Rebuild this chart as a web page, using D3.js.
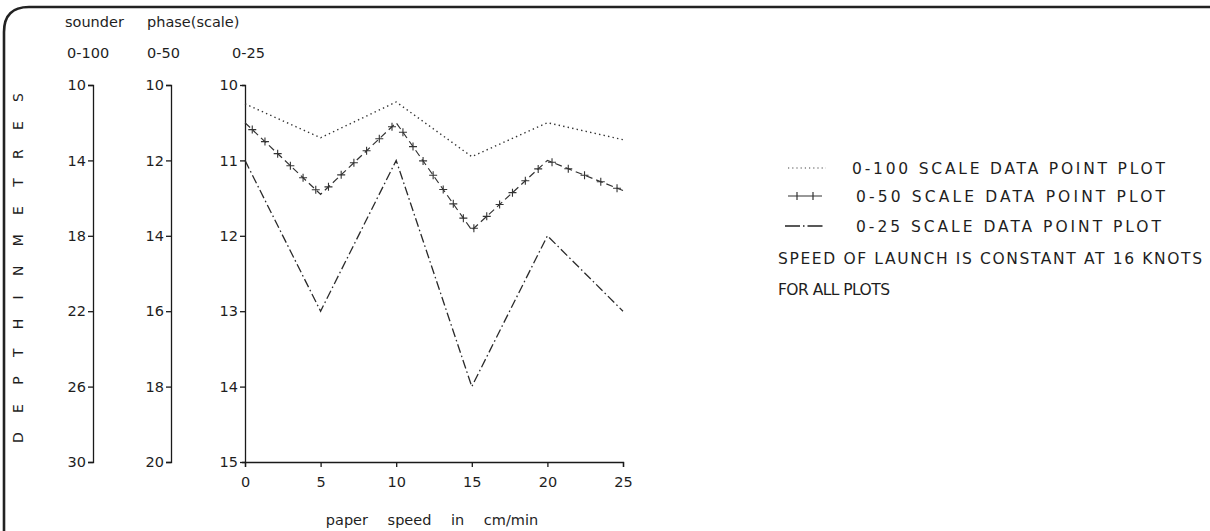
<!DOCTYPE html>
<html><head><meta charset="utf-8">
<script src="https://cdn.jsdelivr.net/npm/d3@7"></script>
<style>
html,body{margin:0;padding:0;background:#fff;}
svg{display:block;}
text{font-family:"DejaVu Sans",sans-serif;fill:#1e1e1e;}
</style></head>
<body>
<svg id="c" width="1210" height="531"></svg>
<script>
// ---- data ----
const speeds = [0, 5, 10, 15, 20, 25];               // paper speed, cm/min
const depth0to100 = [11, 12.8, 10.9, 13.8, 12, 12.9]; // metres, 0-100 scale
const depth0to50  = [11, 12.9, 11, 13.85, 12, 12.8];  // metres, 0-50 scale
const depth0to25  = [11, 13, 11, 14, 12, 13];         // metres, 0-25 scale
const ticks100 = [10, 14, 18, 22, 26, 30];
const ticks50  = [10, 12, 14, 16, 18, 20];
const ticks25  = [10, 11, 12, 13, 14, 15];
const xTicks   = [0, 5, 10, 15, 20, 25];
const headerTop = ["sounder", "phase(scale)"];
const scaleNames = ["0-100", "0-50", "0-25"];
const legendLabels = ["0-100 SCALE DATA POINT PLOT", "0-50 SCALE DATA POINT PLOT", "0-25 SCALE DATA POINT PLOT"];
const notes = ["SPEED OF LAUNCH IS CONSTANT AT 16 KNOTS", "FOR ALL PLOTS"];
const xTitle = "paper speed in cm/min";
const yTitle = "D E P T H   I N   M E T R E S";

const svg = d3.select("#c");
const ink = "#1a1a1a";
const FS = "14.5px";
const LFS = "15.5px";

// frame
svg.append("path").attr("d","M4,531 L4,32 Q4,7 29,7 L1210,7")
  .attr("fill","none").attr("stroke","#222").attr("stroke-width",2.6);

// scales
const yTopPx = 85, yBotPx = 462;
const x = d3.scaleLinear().domain([0,25]).range([245,623]);
const y100 = d3.scaleLinear().domain([10,30]).range([yTopPx,yBotPx]);
const y50  = d3.scaleLinear().domain([10,20]).range([yTopPx,yBotPx]);
const y25  = d3.scaleLinear().domain([10,15]).range([yTopPx,yBotPx]);
const fmt = d3.format("d");

function styleAxis(g){
  g.selectAll("path,line").attr("stroke",ink).attr("stroke-width",1.3);
  g.selectAll("text").style("font-family","DejaVu Sans, sans-serif").style("font-size",FS).attr("fill","#1e1e1e");
}
const ax100 = svg.append("g").attr("transform","translate(93,0)")
  .call(d3.axisLeft(y100).tickValues(ticks100).tickFormat(fmt).tickSize(5).tickPadding(2));
styleAxis(ax100);
const ax50 = svg.append("g").attr("transform","translate(171,0)")
  .call(d3.axisLeft(y50).tickValues(ticks50).tickFormat(fmt).tickSize(5).tickPadding(2));
styleAxis(ax50);
const ax25 = svg.append("g").attr("transform","translate(245,0)")
  .call(d3.axisLeft(y25).tickValues(ticks25).tickFormat(fmt).tickSize(5).tickSizeOuter(3).tickPadding(2));
styleAxis(ax25);
const axX = svg.append("g").attr("transform",`translate(0,${yBotPx})`)
  .call(d3.axisBottom(x).tickValues(xTicks).tickFormat(fmt).tickSize(5).tickPadding(10));
styleAxis(axX);

// headers
svg.append("text").attr("x",65).attr("y",27).style("font-size",FS).text(headerTop[0]);
svg.append("text").attr("x",147).attr("y",27).style("font-size",FS).text(headerTop[1]);
[67,147,232].forEach((px,i)=>{
  svg.append("text").attr("x",px).attr("y",58).style("font-size",FS).text(scaleNames[i]);
});

// y title (vertical)
svg.append("text").attr("transform","translate(23,268) rotate(-90)")
  .attr("text-anchor","middle").style("font-size","14px")
  .attr("textLength",350).attr("lengthAdjust","spacing").text(yTitle);

// x title
svg.append("text").attr("x",432).attr("y",525).attr("text-anchor","middle")
  .style("font-size",FS).style("word-spacing","15px").text(xTitle);

// lines
const line = ys => d3.line().x((d,i)=>x(speeds[i])).y(d=>ys(d));
svg.append("path").datum(depth0to100).attr("d",line(y100))
  .attr("fill","none").attr("stroke","#333").attr("stroke-width",1.4).attr("stroke-dasharray","1.4,3.2");
const p50 = svg.append("path").datum(depth0to50).attr("d",line(y50))
  .attr("fill","none").attr("stroke","#333").attr("stroke-width",1.2).attr("stroke-dasharray","7,4");
svg.append("path").datum(depth0to25).attr("d",line(y25))
  .attr("fill","none").attr("stroke","#2a2a2a").attr("stroke-width",1.3).attr("stroke-dasharray","9,3,1.6,3");

// plus markers along the 0-50 line
const node = p50.node(), L = node.getTotalLength();
const pts = d3.range(10, L, 17.5).map(l=>node.getPointAtLength(l));
svg.append("g").selectAll("path").data(pts).join("path")
  .attr("d",d=>`M${d.x-4},${d.y}H${d.x+4}M${d.x},${d.y-4}V${d.y+4}`)
  .attr("stroke","#333").attr("stroke-width",1.1);

// legend
const lg = svg.append("g");
const rows = [174,202,232];
lg.append("line").attr("x1",788).attr("x2",826).attr("y1",rows[0]-6).attr("y2",rows[0]-6)
  .attr("stroke","#444").attr("stroke-width",1.2).attr("stroke-dasharray","1.2,3");
lg.append("line").attr("x1",788).attr("x2",822).attr("y1",rows[1]-6).attr("y2",rows[1]-6)
  .attr("stroke","#333").attr("stroke-width",1.2);
[797,813].forEach(px=>lg.append("line").attr("x1",px).attr("x2",px).attr("y1",rows[1]-10).attr("y2",rows[1]-2)
  .attr("stroke","#333").attr("stroke-width",1.2));
lg.append("line").attr("x1",785).attr("x2",828).attr("y1",rows[2]-6).attr("y2",rows[2]-6)
  .attr("stroke","#222").attr("stroke-width",1.6).attr("stroke-dasharray","15,3,1.5,3,15");
const lx = [852,856,856], lw = [313,309,305];
legendLabels.forEach((t,i)=>{
  lg.append("text").attr("x",lx[i]).attr("y",rows[i]).style("font-size",LFS)
    .attr("textLength",lw[i]).attr("lengthAdjust","spacing").text(t);
});
lg.append("text").attr("x",778).attr("y",264).style("font-size",LFS)
  .attr("textLength",424).attr("lengthAdjust","spacing").text(notes[0]);
lg.append("text").attr("x",778).attr("y",295).style("font-size",LFS)
  .attr("textLength",112).attr("lengthAdjust","spacing").text(notes[1]);
</script>
</body></html>
